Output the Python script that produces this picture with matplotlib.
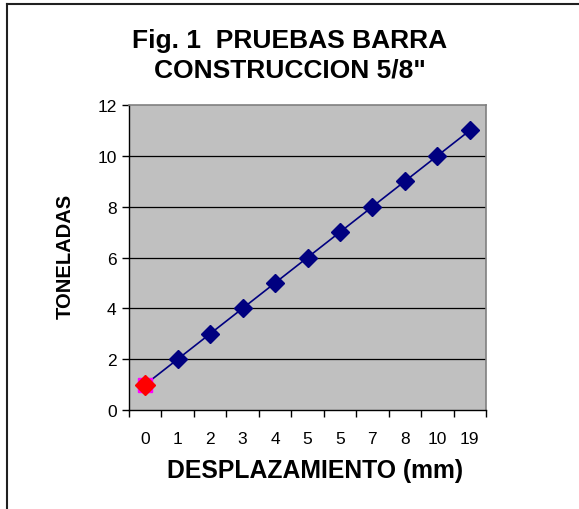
import matplotlib
matplotlib.use('Agg')
import matplotlib.pyplot as plt
import numpy as np

# Data
desplazamiento = ['0', '1', '2', '3', '4', '5', '5', '7', '8', '10', '19']
toneladas = [1, 2, 3, 4, 5, 6, 7, 8, 9, 10, 11]

plt.rcParams['font.family'] = ['Liberation Sans', 'DejaVu Sans']

fig = plt.figure(figsize=(5.79, 5.10), dpi=100)
ax = fig.add_axes([0.2228, 0.1941, 0.6166, 0.598])

x = np.arange(len(desplazamiento))
ax.set_facecolor('#C0C0C0')

# Gridlines
for yv in range(2, 12, 2):
    ax.axhline(yv, color='black', linewidth=0.9, zorder=1)

ax.plot(x, toneladas, color='#000080', linewidth=1.2, marker='D',
        markersize=9, markerfacecolor='#000080', markeredgecolor='#000080', zorder=3)

# First point highlighted (magenta square behind red diamond)
ax.plot(x[0], toneladas[0], marker='s', markersize=10, color='#FF00FF',
        linestyle='none', zorder=4)
ax.plot(x[0], toneladas[0], marker='D', markersize=10, color='#FF0000',
        linestyle='none', zorder=5)

ax.set_xlim(-0.5, len(desplazamiento) - 0.5)
ax.set_ylim(0, 12)
ax.set_yticks(range(0, 13, 2))
ax.set_xticks(x)
ax.set_xticklabels(desplazamiento)
ax.set_xticks(np.arange(-0.5, len(desplazamiento)), minor=True)
ax.tick_params(axis='x', which='major', length=0, pad=15, labelsize=12.5)
ax.tick_params(axis='x', which='minor', length=5, width=1, direction='out', color='black')
ax.tick_params(axis='y', length=5, width=1, direction='out', labelsize=12.5, pad=4)

for side in ['left', 'bottom']:
    ax.spines[side].set_color('black')
    ax.spines[side].set_linewidth(1)
for side in ['top', 'right']:
    ax.spines[side].set_color('#808080')
    ax.spines[side].set_linewidth(1.2)

ax.set_xlabel('DESPLAZAMIENTO (mm)', fontsize=17.8, fontweight='bold', labelpad=9)
ax.xaxis.label.set_x(0.5 + 8 / 357)
ax.set_ylabel('TONELADAS', fontsize=14.5, fontweight='bold', labelpad=16)
ax.yaxis.label.set_y(0.5 + 2 / 305)

fig.text(0.5, 0.89, 'Fig. 1  PRUEBAS BARRA\nCONSTRUCCION 5/8"', ha='center', va='center',
         fontsize=19, fontweight='bold', linespacing=1.3)

# Outer chart border (top and left visible)
fig.add_artist(plt.Line2D([7 / 579, 7 / 579], [0, 1 - 5 / 510], color='#202020', linewidth=1.5))
fig.add_artist(plt.Line2D([7 / 579, 1], [1 - 5 / 510, 1 - 5 / 510], color='#202020', linewidth=1.5))

fig.savefig('out.png', dpi=100)
